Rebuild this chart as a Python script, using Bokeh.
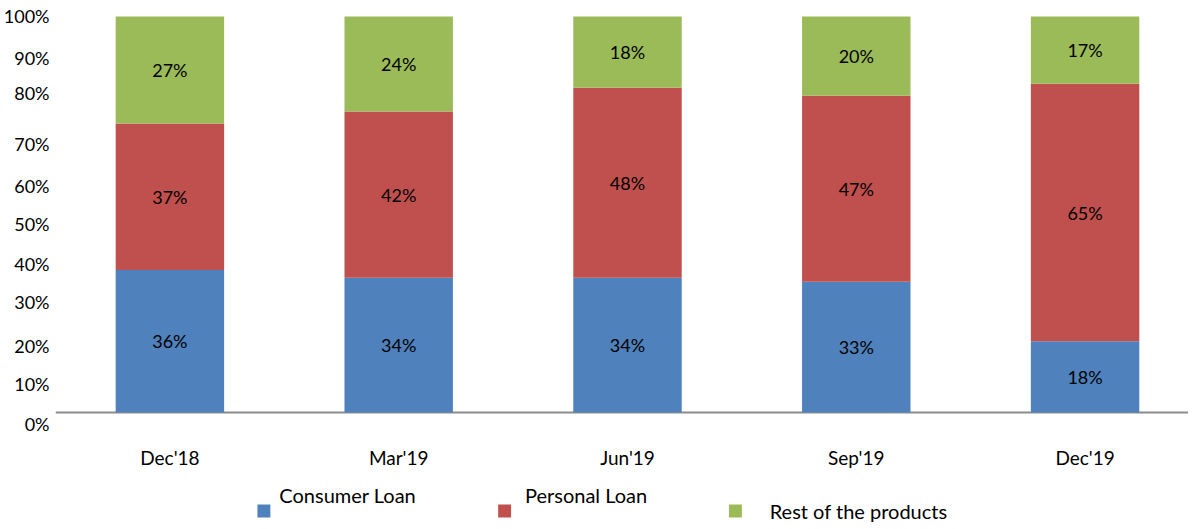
from bokeh.plotting import figure
from bokeh.layouts import column
from bokeh.models import Range1d, FixedTicker, Span, ColumnDataSource
from bokeh.core.properties import value
from bokeh.embed import file_html
from bokeh.resources import INLINE

# ---- data ----
categories = ["Dec'18", "Mar'19", "Jun'19", "Sep'19", "Dec'19"]
consumer_loan = [36, 34, 34, 33, 18]
personal_loan = [37, 42, 48, 47, 65]
rest_of_products = [27, 24, 18, 20, 17]
series_names = ["Consumer Loan", "Personal Loan", "Rest of the products"]
y_tick_labels = ["0%", "10%", "20%", "30%", "40%", "50%", "60%", "70%", "80%", "90%", "100%"]

# ---- styling / layout ----
colors = ["#4F81BD", "#C0504D", "#9BBB59"]
y_tick_label_pos = [-3.0, 7.1, 16.7, 27.8, 37.6, 47.5, 57.1, 67.7, 80.6, 89.6, 100.0]
FONT = "Lato"
FS = "19px"
W = 1188
H_MAIN = 472
H_LEG = 51

keys = ["consumer", "personal", "rest"]
xs = list(range(len(categories)))
src = ColumnDataSource(dict(x=xs, consumer=consumer_loan, personal=personal_loan, rest=rest_of_products))

p = figure(width=W, height=H_MAIN, output_backend="svg", toolbar_location=None,
           x_range=Range1d(-0.5, 4.452), y_range=Range1d(-5.556, 101.515),
           min_border_left=49, min_border_right=0, min_border_top=10, min_border_bottom=38)
p.outline_line_color = None
p.xgrid.visible = False
p.ygrid.visible = False

baseline = Span(location=0, dimension="width", line_color="#8C8C8C", line_width=2, level="underlay")
p.add_layout(baseline)

renderers = p.vbar_stack(keys, x="x", width=0.474, fill_color=colors, line_color=None, source=src)

# value labels centered in each segment
lx, ly, lt = [], [], []
for i in xs:
    bottom = 0
    for arr in (consumer_loan, personal_loan, rest_of_products):
        v = arr[i]
        lx.append(i)
        ly.append(bottom + v / 2)
        lt.append(f"{v}%")
        bottom += v
p.text(x=lx, y=ly, text=lt, text_align="center", text_baseline="middle",
       text_font=value(FONT), text_font_size="18px", text_color="black")

# axes
p.xaxis.ticker = FixedTicker(ticks=xs)
p.xaxis.major_label_overrides = {i: c for i, c in zip(xs, categories)}
p.xaxis.axis_line_color = None
p.xaxis.major_tick_line_color = None
p.xaxis.minor_tick_line_color = None
p.xaxis.major_tick_out = 0
p.xaxis.major_label_standoff = 11
p.xaxis.major_label_text_font = FONT
p.xaxis.major_label_text_font_size = FS
p.xaxis.major_label_text_color = "black"

p.yaxis.ticker = FixedTicker(ticks=y_tick_label_pos)
p.yaxis.major_label_overrides = {t: l for t, l in zip(y_tick_label_pos, y_tick_labels)}
p.yaxis.axis_line_color = None
p.yaxis.major_tick_line_color = None
p.yaxis.minor_tick_line_color = None
p.yaxis.major_tick_out = 0
p.yaxis.major_label_standoff = 6
p.yaxis.major_label_text_font = FONT
p.yaxis.major_label_text_font_size = "18px"
p.yaxis.major_label_text_color = "black"

# ---- legend strip (page-pixel coordinates; frame aligned with main frame, y downward) ----
lg = figure(width=W, height=H_LEG, output_backend="svg", toolbar_location=None,
            x_range=Range1d(55, 1194), y_range=Range1d(H_LEG, 0),
            x_axis_type=None, y_axis_type=None,
            min_border_left=49, min_border_right=0, min_border_top=0, min_border_bottom=0)
lg.outline_line_color = None
lg.xgrid.visible = False
lg.ygrid.visible = False

sq_x = [264.5, 506.5, 738.5]
sq_y = [38.5, 38.5, 38.5]
lg.rect(x=sq_x, y=sq_y, width=13, height=13, fill_color=colors, line_color=None)
tx = [280, 527, 773]
ty = [22, 22, 38.5]
lg.text(x=tx, y=ty, text=series_names, text_align="left", text_baseline="middle",
        text_font=value(FONT), text_font_size="20px", text_color="black")

layout = column(p, lg, spacing=0)
open("out.html", "w").write(file_html(layout, INLINE))
